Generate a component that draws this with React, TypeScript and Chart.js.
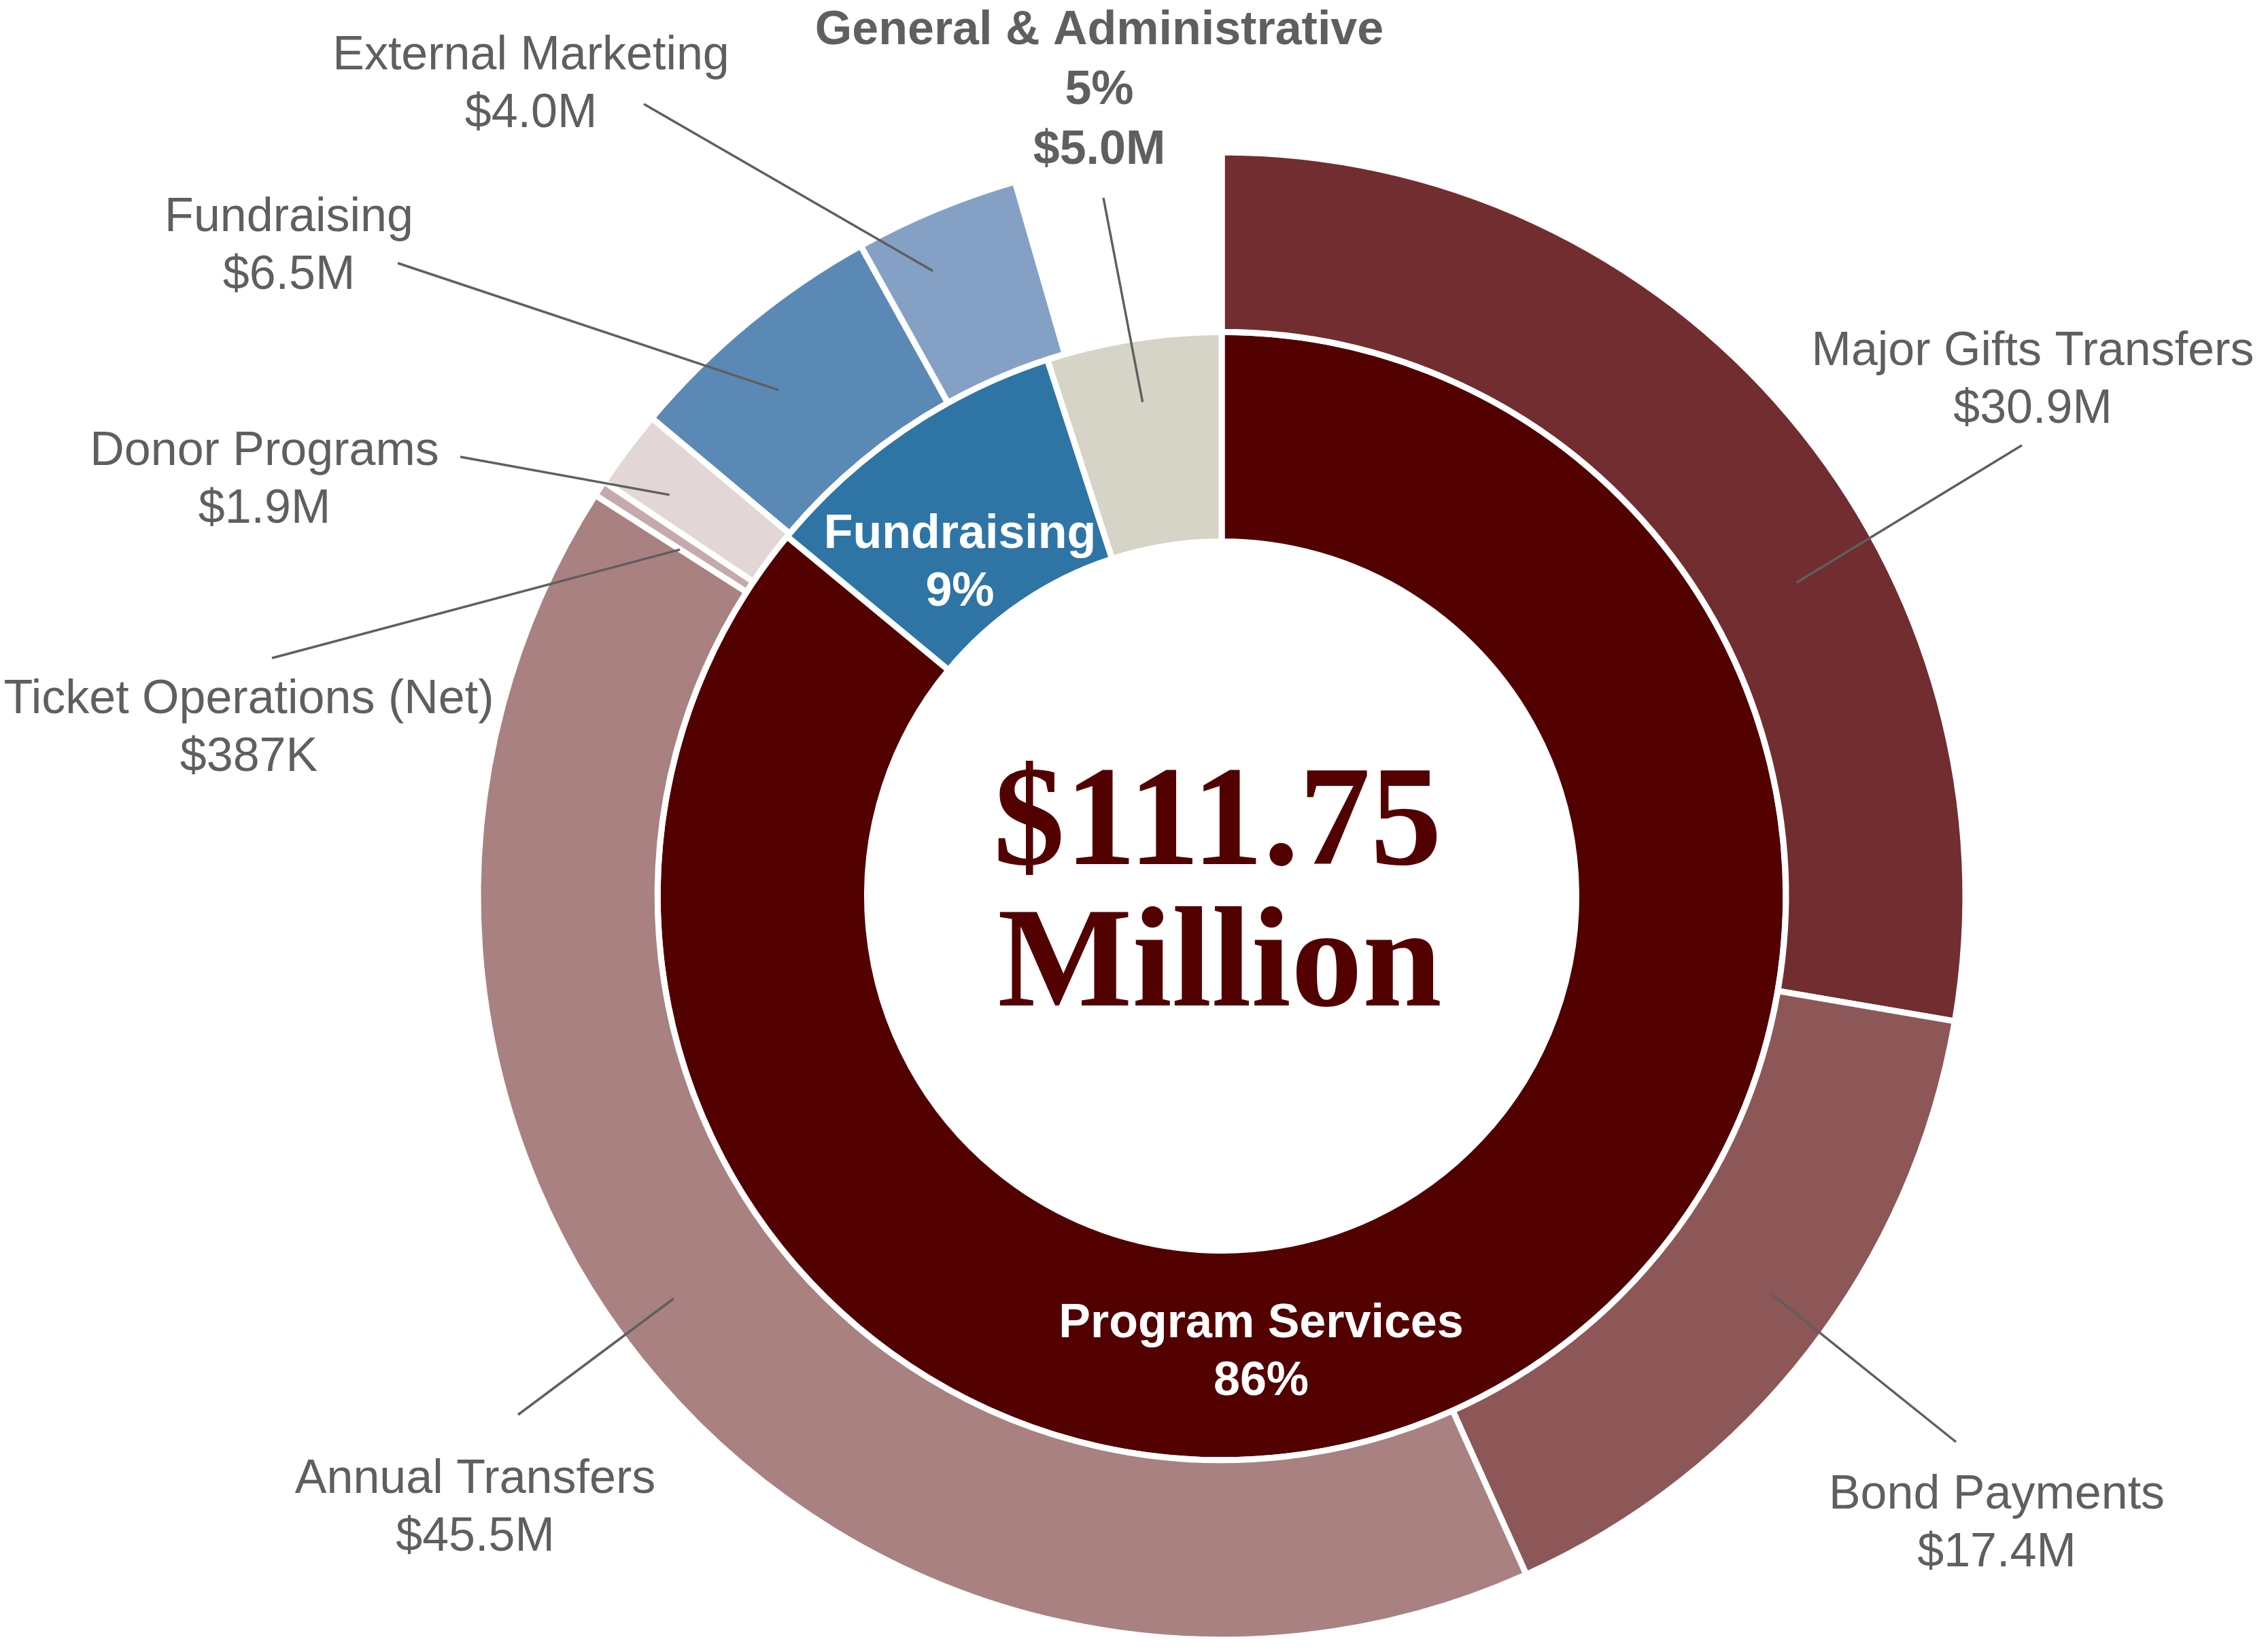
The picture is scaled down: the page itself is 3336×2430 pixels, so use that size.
import React, { useEffect, useRef } from "react";
import { Chart, registerables } from "chart.js";

Chart.register(...registerables);

// ---------- DATA ----------
const outerCategories = [
  "Major Gifts Transfers",
  "Bond Payments",
  "Annual Transfers",
  "Ticket Operations (Net)",
  "Donor Programs",
  "Fundraising",
  "External Marketing",
  "General & Administrative",
];
const outerValues = [30.9, 17.4, 45.5, 0.387, 1.9, 6.5, 4.0, 5.0]; // $ millions

const innerCategories = ["Program Services", "Fundraising", "General & Administrative"];
const innerPercents = [86, 9, 5];

const totalMillions = 111.75;

// ---------- STYLE ----------
const outerColors = [
  "#722d30",
  "#8d5757",
  "#a98181",
  "#c6a9ac",
  "#e2d6d7",
  "#5b89b5",
  "#84a1c5",
  "rgba(255,255,255,0)",
];
const innerColors = ["#520000", "#2e75a6", "#d6d4c6"];

const TEXT_GRAY = "#5f5f5f";
const LABEL_FONT = '"Liberation Sans", Arial, sans-serif';
const LINE_H = 85;

// label layout: text centre x, first baseline y; leader line outer end (lx,ly);
// leader inner anchor in polar coords (deg clockwise from top, radius px)
const outerLabelLayout: Array<null | { x: number; y: number; lx: number; ly: number; a: number; r: number }> = [
  { x: 2990, y: 537, lx: 2974, ly: 655, a: 61.4, r: 963 },
  { x: 2937, y: 2219, lx: 2877, ly: 2121, a: 125.9, r: 999 },
  { x: 699, y: 2196, lx: 762, ly: 2081, a: 233.7, r: 1000 },
  { x: 366, y: 1049, lx: 400, ly: 968, a: 302.6, r: 946 },
  { x: 389, y: 684, lx: 677, ly: 672, a: 306, r: 1004 },
  { x: 425, y: 340, lx: 585, ly: 387, a: 318.8, r: 989 },
  { x: 781, y: 102, lx: 947, ly: 153, a: 335.2, r: 1013 },
  null,
];

const innerLabelLayout = [
  { x: 1855, y: 1967, color: "#ffffff", outside: false },
  { x: 1412, y: 806, color: "#ffffff", outside: false },
  { x: 1617, y: 65, color: TEXT_GRAY, outside: true, lx: 1623, ly: 291, a: 350.9, r: 736 },
];

function fmtMoney(v: number): string {
  if (v < 1) return `$${Math.round(v * 1000)}K`;
  return `$${v.toFixed(1)}M`;
}

export default function App() {
  const canvasRef = useRef<HTMLCanvasElement | null>(null);

  useEffect(() => {
    document.body.style.margin = "0";
    const canvas = canvasRef.current;
    if (!canvas) return;

    const overlay = {
      id: "overlay",
      afterDatasetsDraw(chart: any) {
        const ctx: CanvasRenderingContext2D = chart.ctx;
        const arc0 = chart.getDatasetMeta(0).data[0] as any;
        const cx = arc0.x;
        const cy = arc0.y;
        const polar = (a: number, r: number) => {
          const rad = (a * Math.PI) / 180;
          return [cx + r * Math.sin(rad), cy - r * Math.cos(rad)];
        };
        ctx.save();

        // leader lines
        ctx.strokeStyle = TEXT_GRAY;
        ctx.lineWidth = 3.5;
        ctx.lineCap = "butt";
        const drawLeader = (a: number, r: number, lx: number, ly: number) => {
          const [px, py] = polar(a, r);
          ctx.beginPath();
          ctx.moveTo(lx, ly);
          ctx.lineTo(px, py);
          ctx.stroke();
        };

        outerLabelLayout.forEach((l, i) => {
          if (!l) return;
          drawLeader(l.a, l.r, l.lx, l.ly);
          ctx.fillStyle = TEXT_GRAY;
          ctx.font = `70px ${LABEL_FONT}`;
          ctx.textAlign = "center";
          ctx.textBaseline = "alphabetic";
          ctx.fillText(outerCategories[i], l.x, l.y);
          ctx.fillText(fmtMoney(outerValues[i]), l.x, l.y + LINE_H);
        });

        innerLabelLayout.forEach((l: any, i) => {
          ctx.fillStyle = l.color;
          ctx.font = `bold 70px ${LABEL_FONT}`;
          ctx.textAlign = "center";
          ctx.textBaseline = "alphabetic";
          const lines = [innerCategories[i], `${innerPercents[i]}%`];
          if (l.outside) {
            const idx = outerCategories.indexOf(innerCategories[i]);
            lines.push(fmtMoney(outerValues[idx]));
            drawLeader(l.a, l.r, l.lx, l.ly);
          }
          const lh = l.outside ? 88 : LINE_H;
          lines.forEach((t, k) => ctx.fillText(t, l.x, l.y + k * lh));
        });

        // centre total
        ctx.fillStyle = "#520000";
        ctx.font = 'bold 210px "Liberation Serif", "Times New Roman", serif';
        ctx.textAlign = "center";
        ctx.fillText(`$${totalMillions.toFixed(2)}`, cx - 6, 1271);
        ctx.fillText("Million", cx - 3, 1479);

        ctx.restore();
      },
    };

    const chart = new Chart(canvas, {
      type: "doughnut",
      data: {
        labels: outerCategories,
        datasets: [
          {
            data: outerValues,
            backgroundColor: outerColors,
            borderColor: "#ffffff",
            borderWidth: 9,
            weight: 264,
          } as any,
          {
            data: innerPercents,
            backgroundColor: innerColors,
            borderColor: "#ffffff",
            borderWidth: 9,
            weight: 308,
          } as any,
        ],
      },
      options: {
        responsive: false,
        animation: false,
        devicePixelRatio: 1,
        cutout: "47.67%",
        radius: 1094,
        events: [],
        layout: { padding: { left: 258, right: 0, top: 206, bottom: 0 } },
        plugins: {
          legend: { display: false },
          tooltip: { enabled: false },
        },
      } as any,
      plugins: [overlay],
    });

    return () => chart.destroy();
  }, []);

  return (
    <div style={{ position: "absolute", left: 0, top: 0, width: 3336, height: 2430, background: "#ffffff" }}>
      <canvas ref={canvasRef} width={3336} height={2430} style={{ width: 3336, height: 2430, display: "block" }} />
    </div>
  );
}
